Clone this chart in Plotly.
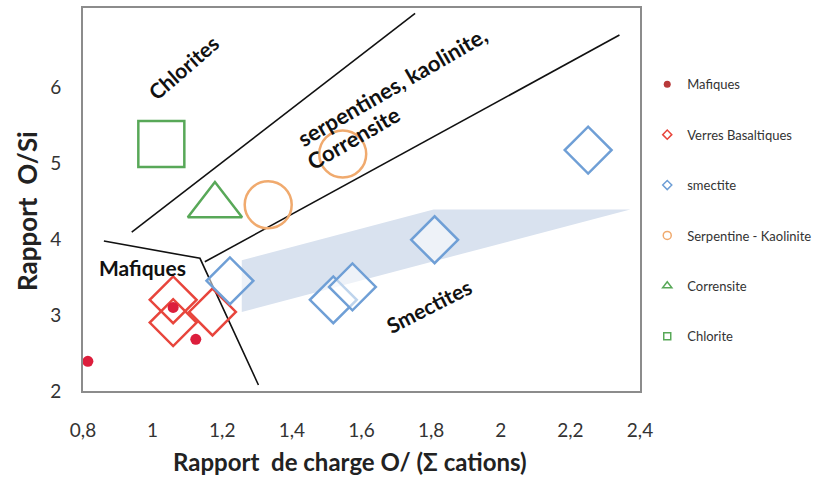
import plotly.graph_objects as go

# ---- data ----
maf_x = [0.814, 1.059, 1.124]
maf_y = [2.39, 3.10, 2.68]

verres_x = [1.059, 1.059, 1.172]
verres_y = [3.20, 2.90, 3.04]

smect_x = [1.222, 1.519, 1.574, 1.810, 2.251]
smect_y = [3.45, 3.20, 3.37, 3.99, 5.17]

serp_x = [1.332, 1.546]
serp_y = [4.45, 5.12]

corr_x = [1.179]
corr_y = [4.44]

chlor_x = [1.025]
chlor_y = [5.25]

# smectite field (shaded zone)
zone_x = [1.256, 1.807, 2.372, 1.256, 1.256]
zone_y = [3.72, 4.39, 4.39, 3.04, 3.72]

# boundary lines
lineA_x = [0.94, 1.754]
lineA_y = [4.09, 6.97]
lineB_x = [1.150, 2.341]
lineB_y = [3.70, 6.684]
lineC_x = [0.860, 1.136, 1.304]
lineC_y = [3.974, 3.746, 2.079]

x_ticks = [0.8, 1.0, 1.2, 1.4, 1.6, 1.8, 2.0, 2.2, 2.4]
x_ticktext = ["0,8", "1", "1,2", "1,4", "1,6", "1,8", "2", "2,2", "2,4"]
y_ticks = [2, 3, 4, 5, 6]

labels = [
    ("Chlorites", 1.087, 6.26, -41, 21),
    ("serpentines, kaolinite,", 1.688, 6.01, -30, 22),
    ("Corrensite", 1.578, 5.34, -30, 22),
    ("Mafiques", 0.970, 3.62, 0, 21),
    ("Smectites", 1.795, 3.12, -27, 21),
]

x_title = "Rapport  de charge O/ (Σ cations)"
y_title = "Rapport  O/Si"

legend_names = ["Mafiques", "Verres Basaltiques", "smectite",
                "Serpentine - Kaolinite", "Corrensite", "Chlorite"]

RED_DOT = "#dc1e3c"
RED = "#e8453c"
BLUE = "#6f9fd6"
ORANGE = "#f0aa6e"
GREEN = "#58a858"
FONT = "Lato"

fig = go.Figure()

fig.add_trace(go.Scatter(x=zone_x, y=zone_y, mode="lines", fill="toself",
                         fillcolor="#d9e2ef", line=dict(width=0),
                         showlegend=False, hoverinfo="skip"))

for lx, ly in [(lineA_x, lineA_y), (lineB_x, lineB_y), (lineC_x, lineC_y)]:
    fig.add_trace(go.Scatter(x=lx, y=ly, mode="lines",
                             line=dict(color="#111111", width=1.6),
                             showlegend=False, hoverinfo="skip"))

fig.add_trace(go.Scatter(x=verres_x, y=verres_y, mode="markers", showlegend=False,
                         marker=dict(symbol="diamond-open", size=36,
                                     color=RED, line=dict(width=2.5, color=RED))))
fig.add_trace(go.Scatter(x=smect_x, y=smect_y, mode="markers", showlegend=False,
                         marker=dict(symbol="diamond", size=36,
                                     color="rgba(255,255,255,0.55)",
                                     line=dict(width=2.5, color=BLUE))))
fig.add_trace(go.Scatter(x=serp_x, y=serp_y, mode="markers", showlegend=False,
                         marker=dict(symbol="circle-open", size=47,
                                     color=ORANGE, line=dict(width=2.5, color=ORANGE))))
fig.add_trace(go.Scatter(x=corr_x, y=corr_y, mode="markers", showlegend=False,
                         marker=dict(symbol="triangle-up-open", size=47,
                                     color=GREEN, line=dict(width=2.5, color=GREEN))))
fig.add_trace(go.Scatter(x=chlor_x, y=chlor_y, mode="markers", showlegend=False,
                         marker=dict(symbol="square-open", size=46,
                                     color=GREEN, line=dict(width=2.5, color=GREEN))))
fig.add_trace(go.Scatter(x=maf_x, y=maf_y, mode="markers", showlegend=False,
                         marker=dict(symbol="circle", size=11, color=RED_DOT)))

# legend entries (small symbols like the reference)
leg_styles = [
    dict(symbol="circle", size=7, color="#b8393a"),
    dict(symbol="diamond-open", size=7, color=RED, line=dict(width=1.5, color=RED)),
    dict(symbol="diamond-open", size=7, color=BLUE, line=dict(width=1.5, color=BLUE)),
    dict(symbol="circle-open", size=8, color=ORANGE, line=dict(width=1.5, color=ORANGE)),
    dict(symbol="triangle-up-open", size=8, color=GREEN, line=dict(width=1.5, color=GREEN)),
    dict(symbol="square-open", size=7, color=GREEN, line=dict(width=1.5, color=GREEN)),
]
for i, (name, st) in enumerate(zip(legend_names, leg_styles)):
    fig.add_trace(go.Scatter(x=[None], y=[None], mode="markers", name=name,
                             legendgroup="g%d" % i, marker=st))

for text, x, y, ang, fs in labels:
    fig.add_annotation(x=x, y=y, xref="x", yref="y", text="<b>%s</b>" % text,
                       showarrow=False, textangle=ang,
                       font=dict(family=FONT, size=fs, color="#111111"))

# axis titles
fig.add_annotation(x=-0.1005, y=0.47, xref="paper", yref="paper",
                   xanchor="center", yanchor="middle",
                   text="<b>%s</b>" % y_title, showarrow=False, textangle=-90,
                   font=dict(family=FONT, size=26, color="#222222"))
fig.add_annotation(x=0.479, y=-0.185, xref="paper", yref="paper",
                   xanchor="center", yanchor="middle",
                   text="<b>%s</b>" % x_title, showarrow=False,
                   font=dict(family=FONT, size=24, color="#222222"))

fig.update_layout(
    width=818, height=477,
    margin=dict(l=83, r=178, t=8, b=86, autoexpand=False),
    paper_bgcolor="white", plot_bgcolor="white",
    font=dict(family=FONT, color="#333333"),
    legend=dict(x=1.013, y=0.84, xanchor="left", yanchor="top",
                font=dict(size=13, color="#333333"), tracegroupgap=30.5,
                bgcolor="rgba(0,0,0,0)"),
    xaxis=dict(range=[0.8, 2.4], tickvals=x_ticks, ticktext=x_ticktext,
               showgrid=False, zeroline=False, showline=True, mirror=True,
               linecolor="#8c8c8c", linewidth=2, ticks="",
               tickfont=dict(size=19, color="#333333"), ticklabelstandoff=21),
    yaxis=dict(range=[2, 7.04], tickvals=y_ticks,
               showgrid=False, zeroline=False, showline=True, mirror=True,
               linecolor="#8c8c8c", linewidth=2, ticks="",
               tickfont=dict(size=19, color="#333333"), ticklabelstandoff=16),
)

fig.write_html("out.html", config={"displayModeBar": False},
               post_script="document.body.style.margin='0';")
